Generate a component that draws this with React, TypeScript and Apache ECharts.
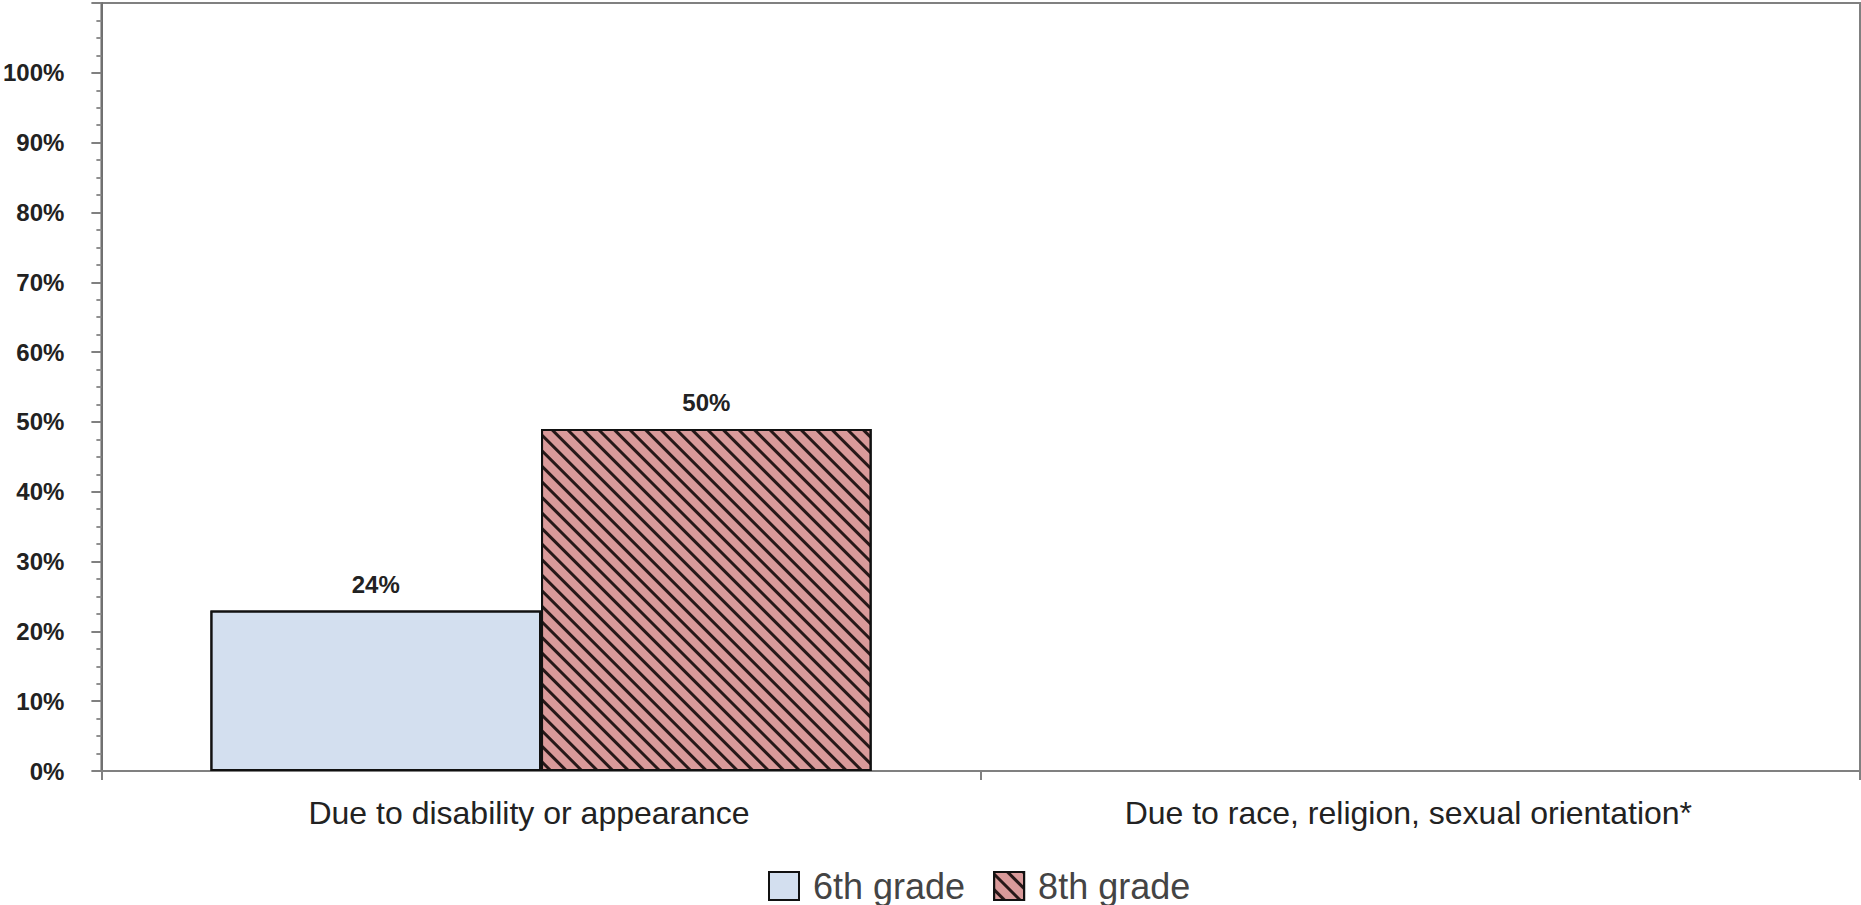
import React, { useEffect, useRef } from "react";
import * as echarts from "echarts";

const categories = [
  "Due to disability or appearance",
  "Due to race, religion, sexual orientation*",
];
const seriesNames = ["6th grade", "8th grade"];
const grade6Values: (number | null)[] = [23, null];
const grade8Values: (number | null)[] = [49, null];
const grade6Labels = ["24%", ""];
const grade8Labels = ["50%", ""];
const yTickValues = [0, 10, 20, 30, 40, 50, 60, 70, 80, 90, 100];

const FONT = "'Liberation Sans', Arial, sans-serif";

export default function App() {
  const ref = useRef<HTMLDivElement>(null);
  useEffect(() => {
    if (!ref.current) return;
    const chart = echarts.init(ref.current, undefined, { renderer: "svg" });
    const labelStyle = {
      show: true,
      position: "top" as const,
      distance: 14,
      fontFamily: FONT,
      fontWeight: "bold" as const,
      fontSize: 24,
      color: "#222",
    };
    chart.setOption({
      animation: false,
      backgroundColor: "#ffffff",
      aria: { enabled: true, decal: { show: true } },
      textStyle: { fontFamily: FONT },
      grid: {
        left: 100,
        right: 1,
        top: 3,
        bottom: 134,
        show: true,
        borderColor: "#808080",
        borderWidth: 2,
      },
      legend: {
        data: seriesNames,
        top: 863,
        left: 763,
        icon: "rect",
        itemWidth: 30,
        itemHeight: 28,
        itemGap: 28,
        textStyle: {
          fontFamily: FONT,
          fontSize: 36,
          lineHeight: 36,
          color: "#444",
          padding: [0, 0, 0, 9],
        },
      },
      xAxis: {
        type: "category",
        data: categories,
        axisLine: { show: true, lineStyle: { color: "#808080", width: 2 } },
        axisTick: { show: true, length: 9, lineStyle: { color: "#808080", width: 2 } },
        axisLabel: {
          margin: 26,
          fontFamily: FONT,
          fontSize: 32,
          color: "#222",
          padding: [0, 24, 0, 0],
        },
        splitLine: { show: false },
      },
      yAxis: {
        type: "value",
        min: 0,
        max: 110,
        interval: 10,
        axisLine: { show: true, lineStyle: { color: "#707070", width: 2 } },
        axisTick: { show: true, length: 10, lineStyle: { color: "#808080", width: 2 } },
        minorTick: {
          show: true,
          splitNumber: 4,
          length: 5,
          lineStyle: { color: "#909090", width: 2 },
        },
        splitLine: { show: false },
        axisLabel: {
          margin: 37,
          fontFamily: FONT,
          fontWeight: "bold",
          fontSize: 24,
          color: "#222",
          formatter: (v: number) =>
            yTickValues.indexOf(v) >= 0 ? `${v}%` : "",
        },
      },
      series: [
        {
          name: seriesNames[0],
          type: "bar",
          data: grade6Values,
          barGap: "0%",
          barCategoryGap: "24.8%",
          itemStyle: {
            color: "#D3DFEF",
            borderColor: "#111",
            borderWidth: 2,
            decal: {
              symbol: "rect",
              color: "rgba(0,0,0,0)",
              dashArrayX: [1, 0],
              dashArrayY: [1, 0],
            },
          },
          label: {
            ...labelStyle,
            formatter: (p: any) => grade6Labels[p.dataIndex],
          },
        },
        {
          name: seriesNames[1],
          type: "bar",
          data: grade8Values,
          barGap: "0%",
          barCategoryGap: "24.8%",
          itemStyle: {
            color: "#D99A9A",
            borderColor: "#111",
            borderWidth: 2,
            decal: {
              symbol: "rect",
              symbolSize: 1,
              color: "rgba(20,10,10,0.9)",
              dashArrayX: [1, 0],
              dashArrayY: [3, 8],
              rotation: Math.PI / 4,
            },
          },
          label: {
            ...labelStyle,
            formatter: (p: any) => grade8Labels[p.dataIndex],
          },
        },
      ],
    });
    return () => chart.dispose();
  }, []);
  return (
    <div
      ref={ref}
      style={{ position: "absolute", left: 0, top: 0, width: 1861, height: 905 }}
    />
  );
}
